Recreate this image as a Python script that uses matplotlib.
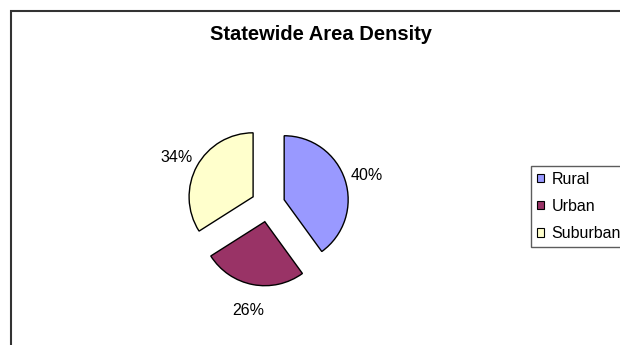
import matplotlib
matplotlib.use("Agg")
import matplotlib.pyplot as plt
from matplotlib.patches import Patch, Rectangle

plt.rcParams['font.family'] = ['Liberation Sans', 'DejaVu Sans']

categories = ['Rural', 'Urban', 'Suburban']
shares = [40, 26, 34]
colors = ['#9999FF', '#993366', '#FFFFCC']

W, H = 620, 345
fig = plt.figure(figsize=(W / 100, H / 100), dpi=100)
ax = fig.add_axes([0, 0, 1, 1])

# pie in pixel-like units so radius / explode are easy to reason about
wedges, texts, autotexts = ax.pie(
    shares, colors=colors, startangle=90, counterclock=False,
    center=(268, 140), radius=64, explode=[17] * len(shares),
    autopct='%1.0f%%', pctdistance=1.36,
    wedgeprops=dict(edgecolor='black', linewidth=1.0),
    textprops=dict(fontsize=11.5, color='black'))
for t in autotexts:
    x, y = t.get_position()
    t.set_position((x, y - 3))
ax.set_xlim(0, W)
ax.set_ylim(0, H)
ax.set_aspect('equal')
ax.axis('off')

# chart area border (right/bottom run off the image)
fig.patches.append(Rectangle((11 / W, -0.1), 1.2, 1.1 - 11 / H,
                             transform=fig.transFigure, fill=False,
                             edgecolor='#333333', linewidth=1.5))

fig.text(321 / W, 1 - 35 / H, 'Statewide Area Density', fontsize=14.5,
         fontweight='bold', ha='center', va='center')

handles = [Patch(facecolor=c, edgecolor='black', linewidth=0.8) for c in colors]
fig.legend(handles, categories, loc='upper left',
           bbox_to_anchor=(531 / W, 1 - 166 / H), borderaxespad=0,
           fontsize=11.5, frameon=True, fancybox=False, edgecolor='#333333',
           handlelength=0.44, handleheight=0.44, handletextpad=0.5,
           labelspacing=0.77, borderpad=0.35)

fig.savefig('out.png', dpi=100)
